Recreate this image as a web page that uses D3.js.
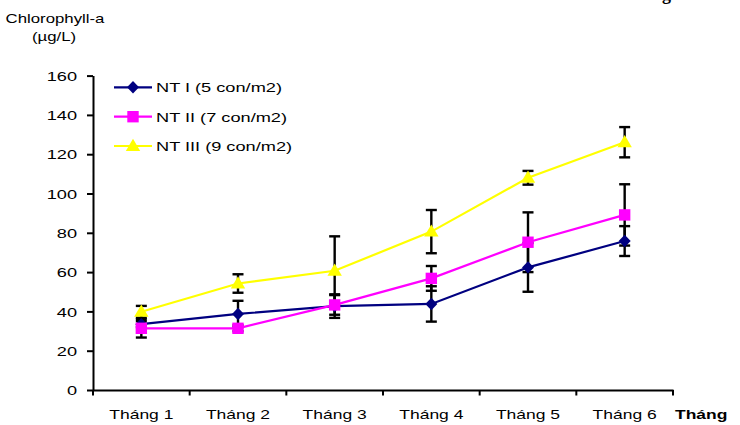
<!DOCTYPE html>
<html>
<head>
<meta charset="utf-8">
<script src="https://cdn.jsdelivr.net/npm/d3@7"></script>
<style>
  html, body { margin: 0; padding: 0; background: #fff; }
  svg { display: block; }
  text { font-family: Arial, "Liberation Sans", sans-serif; fill: #000; }
</style>
</head>
<body>
<svg id="chart" width="740" height="425"></svg>
<script>
// Monthly chlorophyll-a readings (µg/L) for three stocking densities
const months = ["Tháng 1", "Tháng 2", "Tháng 3", "Tháng 4", "Tháng 5", "Tháng 6"];
const yTicks = [0, 20, 40, 60, 80, 100, 120, 140, 160];
const seriesNames = ["NT I (5 con/m2)", "NT II (7 con/m2)", "NT III (9 con/m2)"];

const ntI = [33.5, 38.7, 42.7, 43.8, 62.4, 75.8];
const ntIErr = [1.5, 6.7, 6.0, 9.0, 12.4, 7.6];

const ntII = [31.4, 31.4, 43.3, 56.8, 75.2, 89.1];
const ntIIErr = [4.7, 1.5, 5.0, 6.3, 15.2, 15.6];

const ntIII = [39.8, 54.2, 60.7, 80.6, 108.0, 126.1];
const ntIIIErr = [3.0, 4.7, 17.5, 11.0, 3.5, 7.7];

const colors = ["#000080", "#FF00FF", "#FFFF00"];
const markerKinds = ["diamond", "square", "triangle"];

const series = seriesNames.map((name, i) => ({
  name,
  color: colors[i],
  marker: markerKinds[i],
  values: [ntI, ntII, ntIII][i],
  errors: [ntIErr, ntIIErr, ntIIIErr][i]
}));

const SX = 1.4; // horizontal stretch applied to the chart's labels

const svg = d3.select("#chart");

const x = d3.scaleBand().domain(months).range([93, 673]).paddingInner(0).paddingOuter(0);
const y = d3.scaleLinear().domain([0, 160]).range([390, 75.6]);

function markerPath(kind) {
  if (kind === "diamond") return "M0,-6.2L6,0L0,6.2L-6,0Z";
  if (kind === "square") return "M-5.7,-5.7L5.7,-5.7L5.7,5.7L-5.7,5.7Z";
  return "M0,-7.2L7.2,5L-7.2,5Z";
}

// Stretched text helper
function label(g, px, py, str, anchor, size, weight) {
  return g.append("text")
    .attr("transform", `translate(${px},${py}) scale(${SX},1)`)
    .attr("text-anchor", anchor || "start")
    .style("font-size", (size || 13) + "px")
    .style("font-weight", weight || "normal")
    .text(str);
}

// Heading (runs off the top edge of the page)
svg.append("text")
  .attr("x", 671).attr("y", 0)
  .attr("text-anchor", "end")
  .style("font-family", "'Liberation Serif', 'Times New Roman', serif")
  .style("font-weight", "bold")
  .style("font-size", "18px")
  .text("theo tháng");

// Y axis title
label(svg, 55, 23, "Chlorophyll-a", "middle", 12);
label(svg, 54, 41, "(µg/L)", "middle", 12);

// Y axis
const yAxis = svg.append("g")
  .attr("transform", "translate(93,0)")
  .call(d3.axisLeft(y).tickValues(yTicks).tickSize(6).tickSizeOuter(0).tickPadding(0));
yAxis.select(".domain").attr("stroke", "#000").attr("stroke-width", 2);
yAxis.selectAll(".tick line").attr("stroke", "#000").attr("stroke-width", 2);
yAxis.selectAll(".tick text")
  .attr("x", -16 / SX)
  .attr("dy", "0.36em")
  .attr("transform", `scale(${SX},1)`)
  .style("font-size", "13px")
  .style("font-family", "Arial, 'Liberation Sans', sans-serif")
  .attr("fill", "#000");

// X axis: labels centred in each band, ticks at band edges
const xAxis = svg.append("g")
  .attr("transform", "translate(0,390)")
  .call(d3.axisBottom(x).tickSize(0).tickSizeOuter(0).tickPadding(0));
xAxis.select(".domain").attr("stroke", "#000").attr("stroke-width", 2);
xAxis.selectAll(".tick text")
  .attr("y", 29)
  .attr("dy", 0)
  .attr("transform", `scale(${SX},1)`)
  .style("font-size", "12.5px")
  .style("font-family", "Arial, 'Liberation Sans', sans-serif")
  .attr("fill", "#000");

const edges = months.map(m => x(m)).concat([x.range()[1]]);
svg.append("g").selectAll("line").data(edges).join("line")
  .attr("x1", d => d).attr("x2", d => d)
  .attr("y1", 390).attr("y2", 395.5)
  .attr("stroke", "#000").attr("stroke-width", 2);

label(svg, 675, 419, "Tháng", "start", 12.5, "bold");

const cx = m => x(m) + x.bandwidth() / 2;

// Error bars
const errG = svg.append("g");
series.forEach(s => {
  months.forEach((m, i) => {
    const v = s.values[i], e = s.errors[i];
    const px = cx(m);
    const g = errG.append("g").attr("stroke", "#000").attr("stroke-width", 2.4);
    g.append("line").attr("x1", px).attr("x2", px).attr("y1", y(v + e)).attr("y2", y(v - e));
    g.append("line").attr("x1", px - 5.5).attr("x2", px + 5.5).attr("y1", y(v + e)).attr("y2", y(v + e));
    g.append("line").attr("x1", px - 5.5).attr("x2", px + 5.5).attr("y1", y(v - e)).attr("y2", y(v - e));
  });
});

// Lines
const line = d3.line().x((d, i) => cx(months[i])).y(d => y(d));
series.forEach(s => {
  svg.append("path")
    .datum(s.values)
    .attr("d", line)
    .attr("fill", "none")
    .attr("stroke", s.color)
    .attr("stroke-width", 2.2);
});

// Markers
series.forEach(s => {
  svg.append("g").selectAll("path").data(s.values).join("path")
    .attr("d", markerPath(s.marker))
    .attr("transform", (d, i) => `translate(${cx(months[i])},${y(d)})`)
    .attr("fill", s.color);
});

// Legend
const legend = svg.append("g");
const legendRows = [87.3, 116.7, 146];
series.forEach((s, i) => {
  const ly = legendRows[i];
  legend.append("line")
    .attr("x1", 114).attr("x2", 152).attr("y1", ly).attr("y2", ly)
    .attr("stroke", s.color).attr("stroke-width", 2.2);
  legend.append("path")
    .attr("d", markerPath(s.marker))
    .attr("transform", `translate(133,${ly})`)
    .attr("fill", s.color);
  label(legend, 156, ly + 4.8, s.name, "start", 13);
});
</script>
</body>
</html>
